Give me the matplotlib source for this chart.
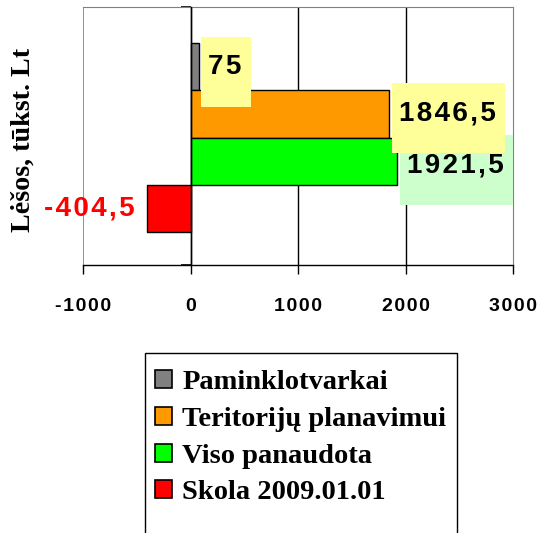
import numpy as np
import matplotlib.pyplot as plt
from matplotlib.path import Path
from matplotlib.patches import Patch, Rectangle

# data
series = ['Paminklotvarkai', 'Teritorijų planavimui', 'Viso panaudota', 'Skola 2009.01.01']
values = [75, 1846.5, 1921.5, -404.5]
colors = ['#808080', '#FF9900', '#00FF00', '#FF0000']
label_boxes = ['#FFFF99', '#FFFF99', '#CCFFCC', None]
label_dy = [0, 0.5, -3, 0]   # excel nudges overlapping labels a bit
xticks = [-1000, 0, 1000, 2000, 3000]

SANS = ['Liberation Sans', 'DejaVu Sans']
SERIF = ['Liberation Serif', 'DejaVu Serif']


def spaced(s):
    # excel spreads the digits a bit, hair spaces fake that
    return '\u200a'.join(s)


def label_box(x0, y0, w, h, mutation_size):
    # uneven padding like the excel data label frames
    m = mutation_size
    l, r, t, b = 0.25 * m, 0.35 * m, 0.62 * m, 0.97 * m
    xa, xb = x0 - l, x0 + w + r
    ya, yb = y0 - b, y0 + h + t
    return Path([(xa, ya), (xb, ya), (xb, yb), (xa, yb), (xa, ya)],
                [Path.MOVETO, Path.LINETO, Path.LINETO, Path.LINETO, Path.CLOSEPOLY])


fig = plt.figure(figsize=(5.41, 5.33), dpi=100)
ax = fig.add_axes([83 / 541, 1 - 265 / 533, 430 / 541, 258 / 533])

n = len(values)
pos = np.arange(n) - (n - 1) / 2
ax.barh(pos, values, height=1.0, color=colors, edgecolor='black', linewidth=1, zorder=3)
ax.set_ylim(pos[-1] + 0.5 + 33 / 47, pos[0] - 0.5 - 36 / 47)
ax.set_xlim(xticks[0], xticks[-1])

# grid and frame
for t in xticks[1:-1]:
    ax.axvline(t, color='black', lw=1, zorder=1)
ax.axvline(xticks[0], color='#808080', lw=1.2, zorder=1)
ax.spines['top'].set_color('#808080')
ax.spines['right'].set_color('#808080')
ax.spines['left'].set_position(('data', 0))
ax.spines['left'].set_zorder(4)
for s in ['left', 'bottom']:
    ax.spines[s].set_color('black')
    ax.spines[s].set_linewidth(1)

ax.set_xticks(xticks)
ax.set_xticklabels([spaced(str(t)) for t in xticks], fontfamily=SANS,
                   fontweight='bold', fontsize=14)
ax.tick_params(axis='x', direction='out', length=6.5, width=1, pad=17)
ax.set_yticks(ax.get_ylim())
ax.set_yticklabels([])
ax.tick_params(axis='y', direction='out', length=7, width=1.2)

# value labels
for i, (p, v) in enumerate(zip(pos, values)):
    txt = spaced(f'{v:g}'.replace('.', ','))
    if v >= 0:
        ax.annotate(txt, (v, p), xytext=(7, label_dy[i]), textcoords='offset points',
                    ha='left', va='center', fontfamily=SANS,
                    fontweight='bold', fontsize=20, color='black',
                    bbox=dict(boxstyle=label_box, fc=label_boxes[i], ec='none'),
                    zorder=10 - i if i != 1 else 12)
    else:
        ax.annotate(txt, (v, p), xytext=(-9, label_dy[i]), textcoords='offset points',
                    ha='right', va='center', fontfamily=SANS,
                    fontweight='bold', fontsize=20, color='#FF0000', zorder=10)

fig.text(23 / 541, 1 - 140 / 533, 'Lėšos, tūkst. Lt', rotation=90, ha='center', va='center',
         fontfamily=SERIF, fontweight='bold', fontsize=20.2)

# legend: entries without frame, frame drawn separately (it runs off the bottom edge)
handles = [Patch(facecolor=c, edgecolor='black', linewidth=1.2) for c in colors]
leg = fig.legend(handles, series, loc='upper left', bbox_to_anchor=(155 / 541, 1 - 370 / 533),
                 borderaxespad=0, frameon=False,
                 prop=dict(family=SERIF, weight='bold', size=20.5),
                 handlelength=0.6, handleheight=0.6, handletextpad=0.36,
                 labelspacing=0.41, borderpad=0)
fig.patches.append(Rectangle((145 / 541, -0.05), 312 / 541, 1.05 - 353 / 533,
                             transform=fig.transFigure, fill=False,
                             edgecolor='black', linewidth=1))

fig.savefig('out.png', dpi=100)
